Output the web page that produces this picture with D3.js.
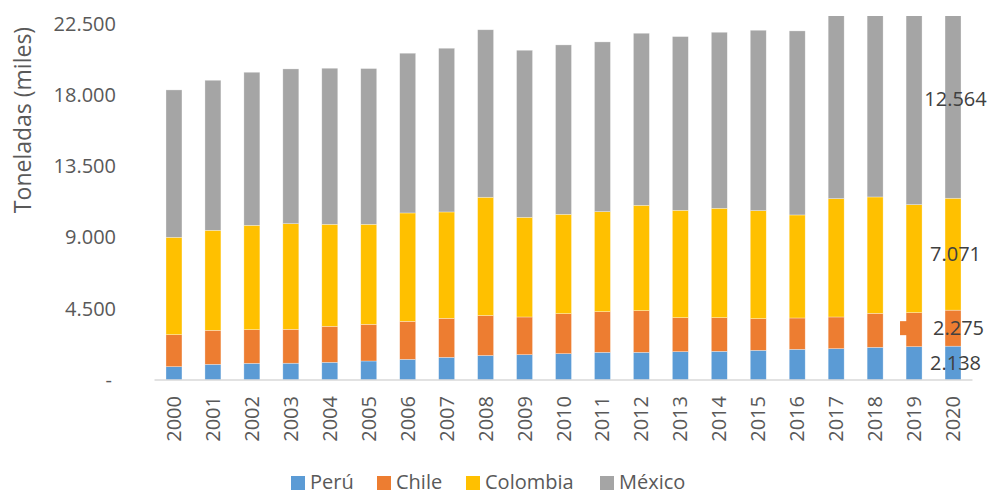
<!DOCTYPE html>
<html>
<head>
<meta charset="utf-8">
<script src="https://cdn.jsdelivr.net/npm/d3@7"></script>
<style>
  body { margin: 0; background: #fff; }
  svg { display: block; font-family: "Open Sans", sans-serif; }
</style>
</head>
<body>
<svg id="chart" width="990" height="494"></svg>
<script>
// Production by country, thousands of tonnes
const years = ["2000","2001","2002","2003","2004","2005","2006","2007","2008","2009","2010",
               "2011","2012","2013","2014","2015","2016","2017","2018","2019","2020"];
const peru     = [843, 990, 1053, 1060, 1117, 1201, 1306, 1433, 1550, 1601, 1664,
                  1748, 1748, 1791, 1812, 1875, 1938, 1980, 2064, 2107, 2138];
const chile    = [2022, 2149, 2128, 2142, 2275, 2317, 2402, 2464, 2525, 2381, 2529,
                  2571, 2634, 2149, 2128, 2002, 1981, 2002, 2150, 2149, 2275];
const colombia = [6152, 6320, 6594, 6678, 6446, 6320, 6847, 6721, 7472, 6299, 6278,
                  6320, 6657, 6784, 6910, 6826, 6510, 7479, 7352, 6826, 7071];
const mexico   = [9312, 9481, 9671, 9776, 9861, 9842, 10093, 10345, 10583, 10555, 10702,
                  10724, 10871, 10976, 11123, 11397, 11629, 11939, 12134, 12418, 12564];

const seriesNames  = ["Perú", "Chile", "Colombia", "México"];
const seriesColors = ["#5B9BD5", "#ED7D31", "#FFC000", "#A5A5A5"];
const yTicks       = [0, 4500, 9000, 13500, 18000, 22500];
const yMax         = 23000;
const yTitle       = "Toneladas (miles)";

const rows = years.map((y, i) => ({
  year: y, "Perú": peru[i], "Chile": chile[i], "Colombia": colombia[i], "México": mexico[i]
}));

const locale = d3.formatLocale({ decimal: ",", thousands: ".", grouping: [3], currency: ["", ""] });
const fmt = locale.format(",d");
const tickFmt = v => v === 0 ? "-" : fmt(v);

const svg = d3.select("#chart");
const plot = { left: 154.5, right: 972.5, top: 16, bottom: 380 };

const x = d3.scaleBand().domain(years).range([plot.left, plot.right])
  .paddingInner(0.59).paddingOuter(0.295);
const y = d3.scaleLinear().domain([0, yMax]).range([plot.bottom, plot.top]);
const color = d3.scaleOrdinal().domain(seriesNames).range(seriesColors);

const stacked = d3.stack().keys(seriesNames)(rows);

svg.append("defs").append("clipPath").attr("id", "plotClip")
  .append("rect")
  .attr("x", plot.left).attr("y", plot.top)
  .attr("width", plot.right - plot.left).attr("height", plot.bottom - plot.top);

// stacked columns
const bars = svg.append("g").attr("clip-path", "url(#plotClip)");
bars.selectAll("g.series").data(stacked).join("g")
  .attr("class", "series")
  .attr("fill", d => color(d.key))
  .selectAll("rect").data(d => d).join("rect")
  .attr("x", d => x(d.data.year))
  .attr("width", x.bandwidth())
  .attr("y", d => y(d[1]))
  .attr("height", d => y(d[0]) - y(d[1]))
  .attr("stroke", "#ffffff").attr("stroke-width", 0.6).attr("stroke-opacity", 0.5);

// category axis line
svg.append("line")
  .attr("x1", plot.left).attr("x2", plot.right)
  .attr("y1", y(0)).attr("y2", y(0))
  .attr("stroke", "#D9D9D9").attr("stroke-width", 1.6);

// value axis labels
const yAxis = d3.axisLeft(y).tickValues(yTicks).tickFormat(tickFmt).tickSize(0).tickPadding(0);
const yg = svg.append("g").attr("transform", "translate(116,0)").call(yAxis);
yg.select(".domain").remove();
yg.selectAll("text").attr("fill", "#595959").style("font-size", "20px")
  .style("font-family", "'Open Sans', sans-serif");
yg.selectAll(".tick").filter(d => d === 0).select("text").attr("x", -4);

// category labels, rotated
const xAxis = d3.axisBottom(x).tickSize(0).tickPadding(0);
const xg = svg.append("g").attr("transform", `translate(0,${plot.bottom})`).call(xAxis);
xg.select(".domain").remove();
xg.selectAll("text")
  .attr("fill", "#595959").style("font-size", "20px")
  .style("font-family", "'Open Sans', sans-serif")
  .attr("text-anchor", "end")
  .attr("transform", "translate(0,16) rotate(-90)")
  .attr("x", 0).attr("y", 0).attr("dy", "0.35em");

// axis title
svg.append("text")
  .attr("transform", "translate(23,120) rotate(-90)")
  .attr("text-anchor", "middle").attr("dy", "0.35em")
  .attr("fill", "#595959").style("font-size", "23px")
  .text(yTitle);

// value labels on the last column
const lastYear = years[years.length - 1];
const cx = x(lastYear) + x.bandwidth() / 2;
const labels = svg.append("g");
stacked.forEach(s => {
  const d = s[s.length - 1];
  const v = d[1] - d[0];
  labels.append("text")
    .attr("x", cx + 2.5 + (s.key === "Chile" ? 3 : 0))
    .attr("y", y((d[0] + d[1]) / 2))
    .attr("dy", "0.35em")
    .attr("text-anchor", "middle")
    .attr("fill", "#404040").style("font-size", "20px")
    .text(fmt(v));
  if (s.key === "Chile") {
    labels.append("rect")
      .attr("x", cx - 53).attr("y", y((d[0] + d[1]) / 2) - 7)
      .attr("width", 7).attr("height", 14)
      .attr("fill", color(s.key));
  }
});

// legend
const legendX = [291, 377, 466, 600];
const legend = svg.append("g").attr("transform", "translate(0,482)");
seriesNames.forEach((name, i) => {
  const g = legend.append("g").attr("transform", `translate(${legendX[i]},0)`);
  g.append("rect").attr("x", 0).attr("y", -6).attr("width", 14).attr("height", 14)
    .attr("fill", color(name));
  g.append("text").attr("x", 19).attr("y", 0).attr("dy", "0.35em")
    .attr("fill", "#595959").style("font-size", "20px").text(name);
});
</script>
</body>
</html>
